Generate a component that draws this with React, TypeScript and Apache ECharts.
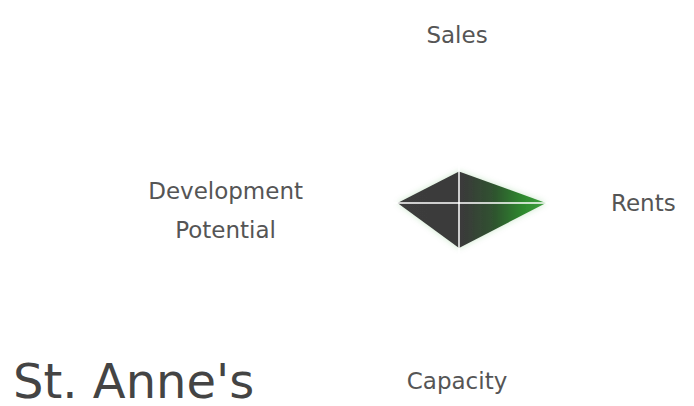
import React, { useEffect, useRef } from "react";
import * as echarts from "echarts";

const indicatorNames = ["Sales", "Development\nPotential", "Capacity", "Rents"];
const indicatorMax = [100, 100, 100, 100];
const seriesValues = [21, 41, 30, 58];
const titleText = "St. Anne's";

const labelBase = { fontFamily: "DejaVu Sans", fontSize: 23, color: "#555555" };

export default function App() {
  const ref = useRef<HTMLDivElement>(null);
  useEffect(() => {
    document.body.style.margin = "0";
    const chart = echarts.init(ref.current!, null, { renderer: "svg" });
    chart.setOption({
      animation: false,
      backgroundColor: "#ffffff",
      title: {
        text: titleText,
        left: 8,
        top: 351,
        textStyle: {
          fontFamily: "DejaVu Sans",
          fontSize: 48,
          lineHeight: 50,
          fontWeight: "normal",
          color: "#444444",
        },
      },
      radar: {
        z: 3,
        center: [459, 203],
        radius: 150,
        startAngle: 90,
        shape: "polygon",
        splitNumber: 1,
        indicator: indicatorNames.map((name, i) => ({ name, max: indicatorMax[i] })),
        axisName: {
          ...labelBase,
          lineHeight: 39,
          padding: [14, 4, 0, 0],
          formatter: (name: string) => {
            if (name.indexOf("\n") >= 0) {
              const parts = name.split("\n");
              return "{d|" + parts[0] + "}\n{d|" + parts[1] + "}";
            }
            if (name === "Sales") return "{top|" + name + "}";
            if (name === "Capacity") return "{bot|" + name + "}";
            return "{c|" + name + "}";
          },
          rich: {
            c: { ...labelBase, lineHeight: 23, padding: [0, 0, 14, 0] },
            top: { ...labelBase, lineHeight: 23, padding: [0, 0, 10, 0] },
            bot: { ...labelBase, lineHeight: 23 },
            d: { ...labelBase, align: "center" },
          },
        },
        nameGap: 2,
        axisLine: { show: true, lineStyle: { color: "#ffffff", width: 1.5 } },
        splitLine: { show: false },
        splitArea: { show: false },
        axisTick: { show: false },
        axisLabel: { show: false },
      },
      series: [
        {
          type: "radar",
          symbol: "none",
          lineStyle: { width: 0, opacity: 0 },
          areaStyle: {
            opacity: 1,
            shadowBlur: 6,
            shadowColor: "rgba(40,140,40,0.2)",
            color: new echarts.graphic.LinearGradient(0, 0, 1, 0, [
              { offset: 0, color: "#3c3c3c" },
              { offset: 0.44, color: "#3a3a3a" },
              { offset: 0.65, color: "#2f532f" },
              { offset: 0.85, color: "#2e8a2e" },
              { offset: 1, color: "#40a040" },
            ]),
          },
          data: [{ value: seriesValues, name: titleText }],
        },
      ],
    });
    return () => chart.dispose();
  }, []);
  return (
    <div
      ref={ref}
      style={{ position: "absolute", left: 0, top: 0, width: 694, height: 406 }}
    />
  );
}
